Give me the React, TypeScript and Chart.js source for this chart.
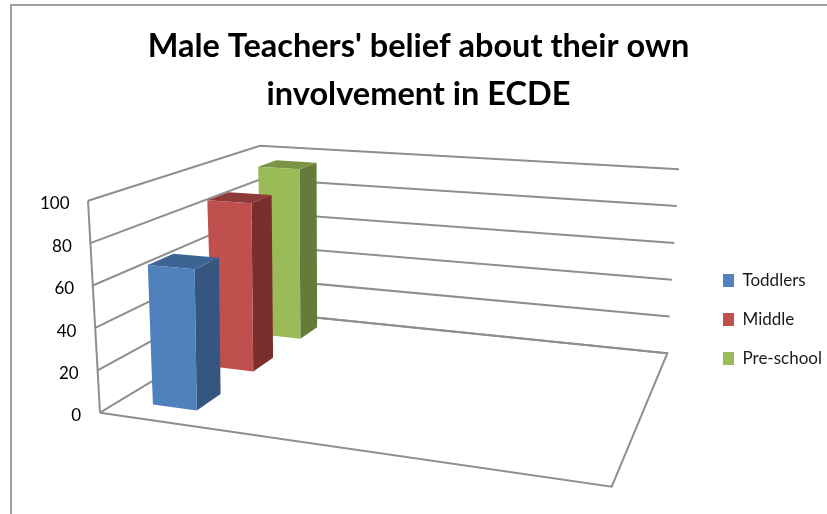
import React, { useEffect, useRef } from "react";
import { Chart, registerables } from "chart.js";

Chart.register(...registerables);

// ---- data ----
const titleLines = ["Male Teachers' belief about their own", "involvement in ECDE"];
const categories = ["", "", "", ""];
const seriesNames = ["Toddlers", "Middle", "Pre-school"];
const toddlers = [67, null, null, null];
const middle = [87, null, null, null];
const preSchool = [95, null, null, null];
const frontColors = ["#4F81BD", "#C0504D", "#9BBB59"];
const sideColors = ["#34567F", "#7B2F2D", "#667A39"];
const topColors = ["#3D6594", "#8E3A38", "#799347"];
const tickStep = 20;
const axisMax = 100;

// ---- projection of the 3D box (screen geometry, not data) ----
type P = [number, number];
const floorQuad: P[] = [[100, 412.7], [611.7, 486.7], [667.3, 353.3], [266, 312.5]];
const ceilQuad: P[] = [[88, 200.7], [625, 238], [679, 169.3], [260, 145.7]];
const depthFill = 0.4;
const GRID = "#8E8E8E";

function homography(q: P[]) {
  const [[x0, y0], [x1, y1], [x2, y2], [x3, y3]] = q;
  const dx1 = x1 - x2, dy1 = y1 - y2, dx2 = x3 - x2, dy2 = y3 - y2;
  const sx = x0 - x1 + x2 - x3, sy = y0 - y1 + y2 - y3;
  const den = dx1 * dy2 - dx2 * dy1;
  const g = (sx * dy2 - dx2 * sy) / den;
  const h = (dx1 * sy - sx * dy1) / den;
  const a = x1 - x0 + g * x1, b = x3 - x0 + h * x3;
  const d = y1 - y0 + g * y1, e = y3 - y0 + h * y3;
  return (u: number, v: number): P => {
    const w = g * u + h * v + 1;
    return [(a * u + b * v + x0) / w, (d * u + e * v + y0) / w];
  };
}
const floorAt = homography(floorQuad);
const ceilAt = homography(ceilQuad);
function project(u: number, v: number, t: number): P {
  const f = floorAt(u, v), c = ceilAt(u, v);
  return [f[0] + (c[0] - f[0]) * t, f[1] + (c[1] - f[1]) * t];
}
function poly(ctx: CanvasRenderingContext2D, pts: P[], fill: string) {
  ctx.beginPath();
  pts.forEach((p, i) => (i ? ctx.lineTo(p[0], p[1]) : ctx.moveTo(p[0], p[1])));
  ctx.closePath();
  ctx.fillStyle = fill;
  ctx.fill();
}
function line(ctx: CanvasRenderingContext2D, pts: P[]) {
  ctx.beginPath();
  pts.forEach((p, i) => (i ? ctx.lineTo(p[0], p[1]) : ctx.moveTo(p[0], p[1])));
  ctx.strokeStyle = GRID;
  ctx.lineWidth = 2;
  ctx.stroke();
}

const frame3d = {
  id: "frame3d",
  afterLayout(chart: any) {
    const lg = chart.legend;
    const pad = lg.options.labels.padding;
    const shift = 319.5 - (lg.top + lg.bottom) / 2;
    const w = lg.right - lg.left;
    lg.left = 723 - pad;
    lg.right = lg.left + w;
    lg.top += shift;
    lg.bottom += shift;
  },
  beforeDraw(chart: any) {
    const ctx = chart.ctx;
    ctx.save();
    ctx.strokeStyle = "#A0A0A0";
    ctx.lineWidth = 2;
    ctx.beginPath();
    ctx.moveTo(11, 514);
    ctx.lineTo(11, 5);
    ctx.lineTo(827, 5);
    ctx.stroke();
    ctx.restore();
    const y = chart.scales.y;
    const items = y.getLabelItems();
    items.forEach((it: any, i: number) => {
      const frac = y.ticks[i].value / axisMax;
      it.options.translation[0] = 81 - 11.5 * frac;
      it.options.textAlign = "right";
    });
  },
  beforeDatasetsDraw(chart: any) {
    const ctx = chart.ctx;
    const y = chart.scales.y;
    const span = y.getPixelForValue(0) - y.getPixelForValue(axisMax);
    const frac = (px: number) => (y.getPixelForValue(0) - px) / span;
    ctx.save();
    ctx.lineJoin = "miter";
    // walls: one polyline for every tick of the value scale
    y.ticks.forEach((tk: any) => {
      const t = frac(y.getPixelForValue(tk.value));
      line(ctx, [project(0, 0, t), project(0, 1, t), project(1, 1, t)]);
    });
    line(ctx, [project(0, 0, 0), project(0, 0, 1)]);
    line(ctx, [project(0, 0, 0), project(1, 0, 0), project(1, 1, 0), project(0, 1, 0)]);
    // bars, back row first
    const area = chart.chartArea;
    const n = chart.data.datasets.length;
    for (let i = n - 1; i >= 0; i--) {
      const meta = chart.getDatasetMeta(i);
      meta.data.forEach((el: any, k: number) => {
        if (chart.data.datasets[i].data[k] == null) return;
        const u0 = (el.x - el.width / 2 - area.left) / area.width;
        const u1 = (el.x + el.width / 2 - area.left) / area.width;
        const v0 = (i + 0.5 - depthFill / 2) / n;
        const v1 = (i + 0.5 + depthFill / 2) / n;
        const t = frac(el.y);
        poly(ctx, [project(u1, v0, 0), project(u1, v1, 0), project(u1, v1, t), project(u1, v0, t)], sideColors[i]);
        poly(ctx, [project(u0, v0, t), project(u1, v0, t), project(u1, v1, t), project(u0, v1, t)], topColors[i]);
        poly(ctx, [project(u0, v0, 0), project(u1, v0, 0), project(u1, v0, t), project(u0, v0, t)], frontColors[i]);
      });
    }
    ctx.restore();
    return false;
  },
};

export default function App() {
  const ref = useRef<HTMLCanvasElement>(null);
  useEffect(() => {
    const values = [toddlers, middle, preSchool];
    const chart = new Chart(ref.current as HTMLCanvasElement, {
      type: "bar",
      data: {
        labels: categories,
        datasets: seriesNames.map((name, i) => ({
          label: name,
          data: values[i],
          backgroundColor: frontColors[i],
          grouped: false,
          barPercentage: depthFill,
          categoryPercentage: 1,
        })),
      },
      options: {
        animation: false,
        responsive: false,
        events: [],
        layout: { padding: { top: 0, bottom: 98, left: 14, right: 4 } },
        plugins: {
          tooltip: { enabled: false },
          title: {
            display: true,
            text: titleLines,
            color: "#000",
            font: { family: "Lato", size: 32.5, weight: "bold", lineHeight: 1.47 },
            padding: { top: 22.5, bottom: 85.6 },
          },
          legend: {
            position: "right",
            labels: {
              color: "#1a1a1a",
              font: { family: "Lato", size: 17 },
              boxWidth: 11,
              boxHeight: 13,
              padding: 22,
            },
          },
        },
        scales: {
          x: { display: false },
          y: {
            min: 0,
            max: axisMax,
            grid: { display: false },
            border: { display: false },
            ticks: {
              stepSize: tickStep,
              color: "#000",
              font: { family: "Lato", size: 17 },
            },
            afterFit(s: any) {
              s.width = 70;
            },
          },
        },
      },
      plugins: [frame3d],
    } as any);
    return () => chart.destroy();
  }, []);
  return (
    <canvas
      ref={ref}
      width={827}
      height={514}
      style={{ position: "fixed", left: 0, top: 0, background: "#fff" }}
    />
  );
}
